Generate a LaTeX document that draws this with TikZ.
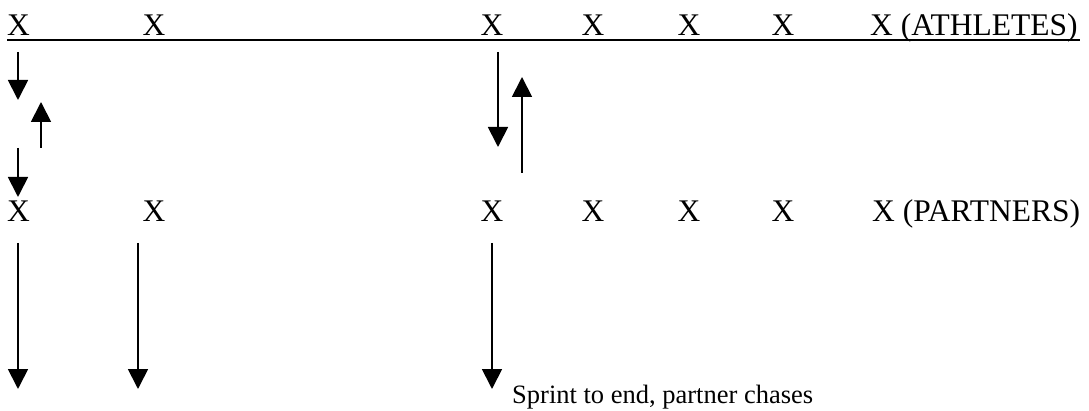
\documentclass[tikz,border=0pt]{standalone}
\usepackage{fontspec}
\setmainfont{Liberation Serif}
\usetikzlibrary{arrows.meta}
\begin{document}
\begin{tikzpicture}[x=1pt,y=-1pt,
  lbl/.style={inner sep=0pt,anchor=base,font=\fontsize{31.5}{31.5}\selectfont},
  lblw/.style={inner sep=0pt,anchor=base west,font=\fontsize{31.5}{31.5}\selectfont},
  note/.style={inner sep=0pt,anchor=base west,font=\fontsize{26.5}{26.5}\selectfont},
  run/.style={line width=1.8pt,-{Triangle[width=20pt,length=20pt]}},
  rule/.style={line width=2pt}]
\useasboundingbox (0,0) rectangle (1089,411);
% athletes row
\node[lbl] (a1) at (18.5,36) {X};
\node[lbl] (a2) at (154,36) {X};
\node[lbl] (a3) at (492,36) {X};
\node[lbl] (a4) at (593,36) {X};
\node[lbl] (a5) at (689,36) {X};
\node[lbl] (a6) at (783,36) {X};
\node[lblw] (a7) at (870,36) {X (ATHLETES)};
\coordinate (u1) at (7,40);
\coordinate (u2) at (1080,40);
\draw[rule] (u1) -- (u2);
% partners row
\node[lbl] (p1) at (18.5,222) {X};
\node[lbl] (p2) at (154,222) {X};
\node[lbl] (p3) at (492,222) {X};
\node[lbl] (p4) at (593,222) {X};
\node[lbl] (p5) at (689,222) {X};
\node[lbl] (p6) at (783,222) {X};
\node[lblw] (p7) at (872,222) {X (PARTNERS)};
% arrows between rows
\coordinate (s1) at (18,52);   \coordinate (e1) at (18,100);
\coordinate (s2) at (41,148);  \coordinate (e2) at (41,102);
\coordinate (s3) at (18,148);  \coordinate (e3) at (18,197);
\coordinate (s4) at (498,52);  \coordinate (e4) at (498,147);
\coordinate (s5) at (522,173); \coordinate (e5) at (522,77);
\draw[run] (s1) -- (e1);
\draw[run] (s2) -- (e2);
\draw[run] (s3) -- (e3);
\draw[run] (s4) -- (e4);
\draw[run] (s5) -- (e5);
% sprint arrows
\coordinate (b1s) at (18,243);  \coordinate (b1e) at (18,389);
\coordinate (b2s) at (138,243); \coordinate (b2e) at (138,389);
\coordinate (b3s) at (492,243); \coordinate (b3e) at (492,389);
\draw[run] (b1s) -- (b1e);
\draw[run] (b2s) -- (b2e);
\draw[run] (b3s) -- (b3e);
\node[note] (txt) at (512,403) {Sprint to end, partner chases};
\end{tikzpicture}
\end{document}
